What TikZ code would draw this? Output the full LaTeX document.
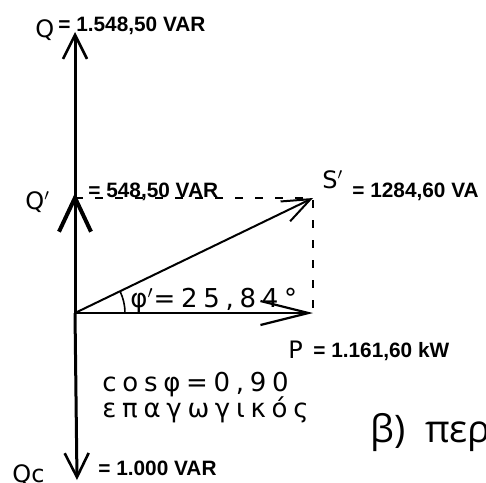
\documentclass[tikz,border=0pt]{standalone}
\usepackage{fontspec}
\setmainfont{DejaVu Sans}
\newfontfamily\valfont{Liberation Sans}
\newfontfamily\monofont{DejaVu Sans}[LetterSpace=22]
\newfontfamily\titlefont{Open Sans}
\usetikzlibrary{arrows.meta}
\tikzset{
  qvec/.style   = {line width=1.5pt, -{Straight Barb[length=12pt,width=12pt,line width=1.3pt]}},
  qpvec/.style  = {line width=1.5pt, -{Straight Barb[length=17pt,width=16pt,line width=2pt]}},
  pvec/.style   = {line width=1.2pt, -{Straight Barb[length=24pt,width=12pt,line width=1.1pt]}},
  svec/.style   = {line width=1pt, -{Straight Barb[length=14pt,width=11pt,line width=1pt]}},
  proj/.style   = {line width=0.7pt, dash pattern=on 4pt off 6pt},
  val/.style    = {font=\valfont\bfseries\fontsize{10.4}{12}\selectfont, inner sep=0pt, anchor=base west},
  sym/.style    = {font=\fontsize{12}{14}\selectfont, inner sep=0pt, anchor=base west},
  mono/.style   = {font=\monofont\fontsize{13}{15}\selectfont, inner sep=0pt, anchor=base west},
}
\begin{document}
\begin{tikzpicture}[x=0.5pt,y=-0.5pt]
\useasboundingbox (0,0) rectangle (486,482);
\coordinate (o)  at (75,313);
\coordinate (q)  at (75,32);
\coordinate (qp) at (75,193);
\coordinate (qc) at (77,480);
\coordinate (p)  at (313,313);
\coordinate (s)  at (313,198);
\coordinate (qs) at (75,198);

\draw[proj] (qs) -- (s) -- (p);
\draw[qvec] (o) -- (q);
\draw[qpvec] (o) -- (qp);
\draw[qvec] (o) -- (qc);
\draw[pvec] (o) -- (p);
\draw[svec] (o) -- (s);
\draw[line width=0.8pt] (o) ++(50,0) arc[start angle=0, end angle=-26, radius=50];

\node[sym] (qname) at (35,37) {Q};
\node[val] (qval) at (58,32) {= 1.548,50 VAR};
\node[sym] (qpname) at (25,209) {Q$'$};
\node[val] (qpval) at (88,197) {= 548,50 VAR};
\node[sym] (sname) at (322,188) {S$'$};
\node[val] (sval) at (352,197) {= 1284,60 VA};
\node[mono] (phi) at (130,307) {φ$'$=25,84°};
\node[sym] (pname) at (288,358) {P};
\node[val] (pval) at (313,357) {= 1.161,60 kW};
\node[mono] (cosphi) at (102,391) {cosφ=0,90};
\node[mono] (kind) at (102,417) {επαγωγικός};
\node[sym] (qcname) at (12,482) {Qc};
\node[val] (qcval) at (98,475) {= 1.000 VAR};
\node[font=\titlefont\fontsize{19}{22}\selectfont, inner sep=0pt, anchor=base west] (title) at (370,442) {β)\ \ περ};
\end{tikzpicture}
\end{document}
